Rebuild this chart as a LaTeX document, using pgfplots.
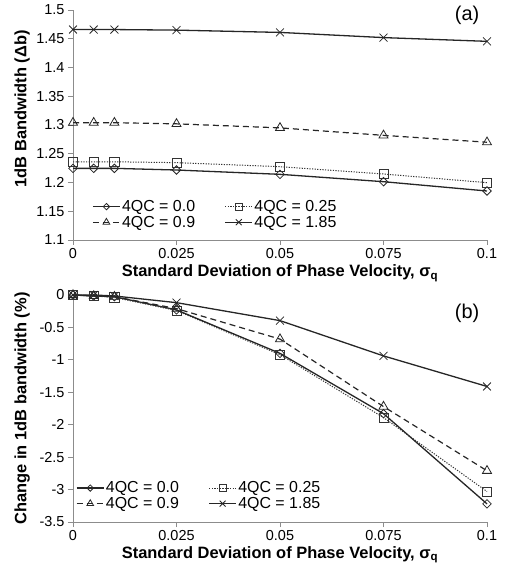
\documentclass[border=0pt]{standalone}
\usepackage{fontspec}
\setmainfont{Liberation Sans}
\usepackage{pgfplots}
\pgfplotsset{compat=1.18}

\newcommand{\tickfont}{\fontsize{14.5}{16}\selectfont}
\newcommand{\labfont}{\fontsize{16.5}{18}\selectfont\bfseries}
\newcommand{\legfont}{\fontsize{16}{17}\selectfont}

\pgfplotsset{
  panel/.style={
    scale only axis, width=414bp,
    xmin=0, xmax=0.1,
    axis x line*=bottom, axis y line*=left,
    axis line style={black!45, line width=0.8bp},
    tick style={black!45, line width=0.8bp},
    tick align=outside, major tick length=5bp,
    xtick={0,0.025,0.05,0.075,0.1},
    xticklabels={0,0.025,0.05,0.075,0.1},
    ticklabel style={font=\tickfont},
    label style={font=\labfont},
    clip=false,
    legend columns=2,
    legend cell align=left,
    legend style={draw=none, fill=none,
      anchor=north west, inner sep=0pt, row sep=0pt,
      nodes={inner sep=1.5bp},
      /tikz/every even column/.append style={column sep=28bp}},
    legend image code/.code={\draw[mark repeat=2,mark phase=2,##1,
        every mark/.append style={scale=0.75}]
      plot coordinates {(0bp,0bp)(13.5bp,0bp)(27bp,0bp)};},
  },
  s0/.style={black!85, line width=1.3bp, mark=square, mark size=3bp,
    mark options={solid, rotate=45, fill=white, line width=0.8bp}},
  s25/.style={black!80, line width=1bp, dash pattern=on 1.2bp off 1.4bp,
    mark=square, mark size=4.6bp, mark options={solid, fill=white, line width=0.8bp}},
  s9/.style={black!85, line width=1.2bp, dash pattern=on 6bp off 4bp,
    mark=triangle, mark size=5.2bp, mark options={solid, fill=white, line width=0.8bp}},
  s185/.style={black!85, line width=1.3bp, mark=x, mark size=5.6bp,
    mark options={solid, line width=0.8bp}},
}

\begin{document}
\begin{tikzpicture}
\useasboundingbox (0,0) rectangle (505bp,571bp);

% (a) bandwidth
\begin{axis}[panel,
  at={(73bp,331bp)}, anchor=south west, height=230bp,
  ymin=1.1, ymax=1.5,
  ytick={1.1,1.15,1.2,1.25,1.3,1.35,1.4,1.45,1.5},
  yticklabels={1.1,1.15,1.2,1.25,1.3,1.35,1.4,1.45,1.5},
  xlabel={Standard Deviation of Phase Velocity, σ\textsubscript{q}},
  xlabel style={at={(axis description cs:0.5,-0.1435)}, anchor=center},
  ylabel={1dB Bandwidth (Δb)},
  ylabel style={at={(axis description cs:-0.123,0.57)}, anchor=center},
  legend style={at={(axis description cs:0.046,0.18)}},
]
\addplot[s0] coordinates {
  (0,1.2246)(0.005,1.2246)(0.01,1.2246)(0.025,1.2217)(0.05,1.2142)(0.075,1.2014)(0.1,1.1852)};
\addlegendentry{\legfont 4QC = 0.0}
\addplot[s25] coordinates {
  (0,1.236)(0.005,1.236)(0.01,1.236)(0.025,1.2345)(0.05,1.2275)(0.075,1.2148)(0.1,1.1997)};
\addlegendentry{\legfont 4QC = 0.25}
\addplot[s9] coordinates {
  (0,1.304)(0.005,1.304)(0.01,1.304)(0.025,1.302)(0.05,1.295)(0.075,1.282)(0.1,1.270)};
\addlegendentry{\legfont 4QC = 0.9}
\addplot[s185] coordinates {
  (0,1.466)(0.005,1.466)(0.01,1.466)(0.025,1.465)(0.05,1.461)(0.075,1.452)(0.1,1.4455)};
\addlegendentry{\legfont 4QC = 1.85}
\node[font=\fontsize{20}{22}\selectfont] at (axis description cs:0.952,0.978) {(a)};
\end{axis}

% (b) change in bandwidth
\begin{axis}[panel,
  at={(73bp,49bp)}, anchor=south west, height=227bp,
  ymin=-3.5, ymax=0,
  ytick={-3.5,-3,-2.5,-2,-1.5,-1,-0.5,0},
  yticklabels={-3.5,-3,-2.5,-2,-1.5,-1,-0.5,0},
  xlabel={Standard Deviation of Phase Velocity, σ\textsubscript{q}},
  xlabel style={at={(axis description cs:0.5,-0.145)}, anchor=center},
  ylabel={Change in 1dB bandwidth (\%)},
  ylabel style={at={(axis description cs:-0.123,0.5)}, anchor=center},
  legend style={at={(axis description cs:0.007,0.185)}},
]
\addplot[s0] coordinates {
  (0,0)(0.005,-0.015)(0.01,-0.026)(0.025,-0.23)(0.05,-0.90)(0.075,-1.83)(0.1,-3.22)};
\addlegendentry{\legfont 4QC = 0.0}
\addplot[s25] coordinates {
  (0,0)(0.005,-0.015)(0.01,-0.036)(0.025,-0.24)(0.05,-0.92)(0.075,-1.89)(0.1,-3.03)};
\addlegendentry{\legfont 4QC = 0.25}
\addplot[s9] coordinates {
  (0,0)(0.005,-0.015)(0.01,-0.026)(0.025,-0.21)(0.05,-0.68)(0.075,-1.72)(0.1,-2.71)};
\addlegendentry{\legfont 4QC = 0.9}
\addplot[s185] coordinates {
  (0,0)(0.005,0)(0.01,-0.015)(0.025,-0.118)(0.05,-0.395)(0.075,-0.939)(0.1,-1.41)};
\addlegendentry{\legfont 4QC = 1.85}
\node[font=\fontsize{20}{22}\selectfont] at (axis description cs:0.952,0.921) {(b)};
\end{axis}
\end{tikzpicture}
\end{document}
